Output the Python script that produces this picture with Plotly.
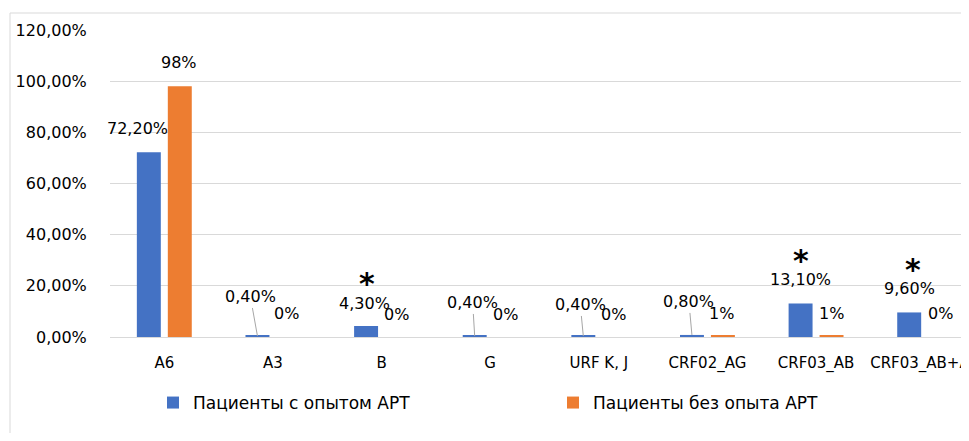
import plotly.graph_objects as go

# ---------------- data ----------------
categories = ["A6", "A3", "B", "G", "URF K, J", "CRF02_AG", "CRF03_AB", "CRF03_AB+A6"]
experienced = [72.2, 0.4, 4.3, 0.4, 0.4, 0.8, 13.1, 9.6]      # Пациенты с опытом АРТ
naive = [98, 0, 0, 0, 0, 0.7, 0.7, 0]                          # Пациенты без опыта АРТ
series_names = ["Пациенты с опытом АРТ", "Пациенты без опыта АРТ"]
y_tick_values = [0, 20, 40, 60, 80, 100, 120]
y_tick_labels = ["0,00%", "20,00%", "40,00%", "60,00%", "80,00%", "100,00%", "120,00%"]
star_categories = ["B", "CRF03_AB", "CRF03_AB+A6"]

# ---------------- style ----------------
BLUE = "#4472C4"
ORANGE = "#ED7D31"
GRID = "#D9D9D9"
FONT = "DejaVu Sans"
BAR_OFF = 15.5  # px offset of each bar centre from the category centre

# label placement tweaks (pixel offsets: dx, dy above bar top, leader line?)
blue_label_pos = [(-11, 24, False), (-7, 39, True), (-2, 23, False), (-2, 33, True),
                  (-3, 31, True), (-3, 33, True), (0, 23.5, False), (0, 24, False)]
orange_label_pos = [(-1, 24, False), (-2, 24, False), (-1, 23, False), (0, 23, False),
                    (-1, 23, False), (-1, 22, False), (0, 22, False), (0, 24, False)]


def fmt_exp(v):
    return f"{v:.2f}".replace(".", ",") + "%"


def fmt_naive(v):
    return f"{v:.0f}%"


fig = go.Figure()
fig.add_trace(go.Bar(x=categories, y=experienced, name=series_names[0],
                     marker=dict(color=BLUE, line=dict(width=0))))
fig.add_trace(go.Bar(x=categories, y=naive, name=series_names[1],
                     marker=dict(color=ORANGE, line=dict(width=0))))

annotations = []
for cat, v, (dx, dy, lead) in zip(categories, experienced, blue_label_pos):
    if lead:
        annotations.append(dict(x=cat, y=v, xshift=-BAR_OFF, text=fmt_exp(v), showarrow=True,
                                ax=dx, ay=-dy, arrowhead=0, arrowwidth=1, arrowcolor="#A6A6A6",
                                standoff=0, startstandoff=0,
                                font=dict(family=FONT, size=16, color="#000")))
    else:
        annotations.append(dict(x=cat, y=v, xshift=-BAR_OFF + dx, yshift=dy, text=fmt_exp(v),
                                showarrow=False, font=dict(family=FONT, size=16, color="#000")))
for cat, v, (dx, dy, lead) in zip(categories, naive, orange_label_pos):
    annotations.append(dict(x=cat, y=v, xshift=BAR_OFF + dx, yshift=dy, text=fmt_naive(v),
                            showarrow=False, font=dict(family=FONT, size=16, color="#000")))

star_shift = {"B": 1, "CRF03_AB": 0, "CRF03_AB+A6": 4}
for cat in star_categories:
    v = experienced[categories.index(cat)]
    annotations.append(dict(x=cat, y=v, xshift=-BAR_OFF + star_shift[cat], yshift=43, text="<b>*</b>",
                            showarrow=False, font=dict(family=FONT, size=30, color="#000")))

# page body has an 8px margin, so the figure is 8px smaller on each side
W, H = 961, 425
L, T, PW, PH = 102, 22, 859, 307
B = H - T - PH
fx0 = (2 - L) / PW
fy1 = 1 + (T - 5) / PH
shapes = [
    dict(type="line", xref="paper", yref="paper", x0=fx0, x1=1.05, y0=fy1, y1=fy1,
         line=dict(color=GRID, width=1)),
    dict(type="line", xref="paper", yref="paper", x0=fx0, x1=fx0, y0=fy1, y1=-0.4,
         line=dict(color=GRID, width=1)),
]

fig.update_layout(
    width=W, height=H, autosize=False,
    margin=dict(l=L, r=0, t=T, b=B, pad=0),
    paper_bgcolor="white", plot_bgcolor="white",
    font=dict(family=FONT, size=16, color="#000"),
    barmode="group", bargap=0.43, bargroupgap=0.226,
    showlegend=True,
    legend=dict(orientation="h", x=(145 - L) / PW, xanchor="left",
                y=(329 - 395) / PH, yanchor="middle",
                font=dict(family=FONT, size=17, color="#000"),
                entrywidth=355, entrywidthmode="pixels",
                itemwidth=30, bgcolor="rgba(0,0,0,0)", traceorder="normal"),
    annotations=annotations,
    shapes=shapes,
)
fig.update_xaxes(range=[-0.5, 7.408], showgrid=False, showline=False, zeroline=False,
                 automargin=False,
                 ticks="outside", ticklen=12, tickcolor="rgba(0,0,0,0)",
                 tickfont=dict(family=FONT, size=15, color="#000"), fixedrange=True)
fig.update_yaxes(range=[0, 120], tickvals=y_tick_values, ticktext=y_tick_labels,
                 automargin=False,
                 showgrid=True, gridcolor=GRID, gridwidth=1,
                 zeroline=True, zerolinecolor=GRID, zerolinewidth=1, showline=False,
                 ticks="outside", ticklen=19, tickcolor="rgba(0,0,0,0)",
                 tickfont=dict(family=FONT, size=16, color="#000"), fixedrange=True)

fig.write_html("out.html")
